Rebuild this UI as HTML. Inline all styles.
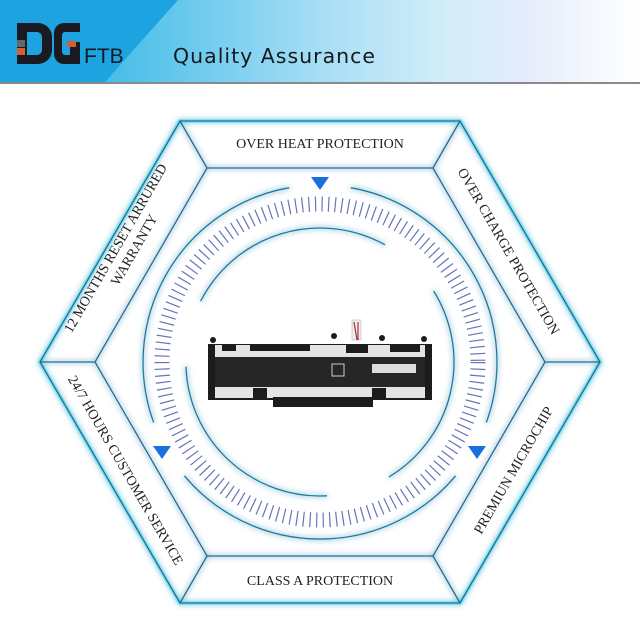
<!DOCTYPE html>
<html><head><meta charset="utf-8"><style>
html,body{margin:0;padding:0;background:#fff;width:640px;height:640px;overflow:hidden}
</style></head><body>
<svg width="640" height="640" viewBox="0 0 640 640" xmlns="http://www.w3.org/2000/svg">
<defs>
<linearGradient id="hd" x1="0" y1="0" x2="1" y2="0">
<stop offset="0" stop-color="#1fa6e2"/><stop offset="0.2" stop-color="#4fc0ea"/>
<stop offset="0.5" stop-color="#a6def5"/><stop offset="0.7" stop-color="#d3edf9"/>
<stop offset="0.82" stop-color="#e4ecfb"/><stop offset="1" stop-color="#ffffff"/>
</linearGradient>
<filter id="glow" x="-20%" y="-20%" width="140%" height="140%">
<feGaussianBlur stdDeviation="3" result="b"/>
<feMerge><feMergeNode in="b"/><feMergeNode in="SourceGraphic"/></feMerge>
</filter>
</defs>
<rect x="0" y="0" width="640" height="82" fill="url(#hd)"/>
<polygon points="0,0 178,0 105,82 0,82" fill="#1da3e0"/>
<rect x="0" y="82" width="640" height="2" fill="#8a8a8a"/>
<path d="M17,23 h21 a14,14 0 0 1 14,14 v13 a14,14 0 0 1 -14,14 h-21z M27,32 v23 h10 a5,5 0 0 0 5,-5 v-13 a5,5 0 0 0 -5,-5z" fill="#1a1a22" fill-rule="evenodd"/>
<rect x="17" y="40" width="8" height="7" fill="#666"/>
<rect x="17" y="48" width="8" height="7" fill="#d06030"/>
<path d="M64,23 h16 v9 h-15 a3,3 0 0 0 -3,3 v17 a3,3 0 0 0 3,3 h5 v-13 h10 v22 h-16 a10,10 0 0 1 -10,-10 v-21 a10,10 0 0 1 10,-10z" fill="#1a1a22"/>
<rect x="67" y="41" width="9" height="6" fill="#d06030"/>
<text x="84" y="63" font-family="Liberation Sans, sans-serif" font-size="21" fill="#151a22">FTB</text>
<text x="173" y="63" font-family="DejaVu Sans, sans-serif" font-size="20.5" fill="#151a22" letter-spacing="1">Quality Assurance</text>

<g fill="none" stroke="#1e6f9a" stroke-width="1.3" filter="url(#glow)">
<polygon points="180,121 460,121 600,362 460,603 180,603 40,362" stroke="#4fd8f0" stroke-width="4" opacity="0.5"/>
<polygon points="180,121 460,121 600,362 460,603 180,603 40,362"/>
<polygon points="207,168 433,168 545,362 433,556 207,556 95,362"/>
<line x1="180" y1="121" x2="207" y2="168"/><line x1="460" y1="121" x2="433" y2="168"/>
<line x1="600" y1="362" x2="545" y2="362"/><line x1="460" y1="603" x2="433" y2="556"/>
<line x1="180" y1="603" x2="207" y2="556"/><line x1="40" y1="362" x2="95" y2="362"/>
</g>

<g fill="none" stroke="#1d7aa0" stroke-width="1.3" filter="url(#glow)">
<path d="M350.7,187.7 A177,177 0 0 1 486.3,422.5"/>
<path d="M455.6,475.8 A177,177 0 0 1 184.4,475.8"/>
<path d="M153.7,422.5 A177,177 0 0 1 289.3,187.7"/>
<path d="M200.6,301.2 A134,134 0 0 1 385,244.8"/>
<path d="M433.6,291 A134,134 0 0 1 389,476.9"/>
<path d="M327,495.8 A134,134 0 0 1 186,366.7"/>
</g>
<circle cx="320" cy="362" r="158" fill="none" stroke="#4d5aa8" stroke-width="15" stroke-dasharray="1.2 5.4" opacity="0.85"/>

<g fill="#1a6fe0">
<polygon points="311,177 329,177 320,190"/>
<polygon points="153,446 171,446 162,459"/>
<polygon points="468,446 486,446 477,459"/>
</g>

<g font-family="Liberation Serif, serif" font-size="14" fill="#222" text-anchor="middle">
<text x="320" y="148">OVER HEAT PROTECTION</text>
<text x="320" y="585">CLASS A PROTECTION</text>
<text transform="translate(122,252) rotate(-60)" y="-3">12 MONTHS RESET ARRURED</text>
<text transform="translate(122,252) rotate(-60)" x="0" y="14" dx="8">WARRANTY</text>
<text transform="translate(509,251) rotate(60)" y="5">OVER CHARGE PROTECTION</text>
<text transform="translate(126,470) rotate(60)" y="5">24/7 HOURS CUSTOMER SERVICE</text>
<text transform="translate(513,470) rotate(-60)" y="5">PREMIUN MICROCHIP</text>
</g>

<g>
<rect x="352" y="320" width="9" height="20" fill="#eee" stroke="#aaa" stroke-width="0.5"/>
<path d="M354,322 l3,18 M358,322 l0,18" stroke="#b03030" stroke-width="1.2"/>
<rect x="208" y="344" width="224" height="56" fill="#1c1c1c"/>
<rect x="215" y="345" width="210" height="53" fill="#e4e4e4"/>
<rect x="222" y="345" width="14" height="6" fill="#1c1c1c"/>
<rect x="250" y="345" width="60" height="6" fill="#1c1c1c"/>
<rect x="346" y="345" width="22" height="8" fill="#1c1c1c"/>
<rect x="390" y="345" width="30" height="7" fill="#1c1c1c"/>
<rect x="215" y="357" width="210" height="30" fill="#262626"/>
<rect x="372" y="364" width="44" height="9" fill="#ddd"/>
<rect x="332" y="364" width="12" height="12" fill="none" stroke="#ccc"/>
<rect x="253" y="388" width="14" height="10" fill="#1c1c1c"/>
<rect x="372" y="388" width="14" height="10" fill="#1c1c1c"/>
<rect x="273" y="397" width="100" height="10" fill="#1c1c1c"/>
<circle cx="213" cy="340" r="3" fill="#1c1c1c"/><circle cx="334" cy="336" r="3" fill="#1c1c1c"/>
<circle cx="382" cy="338" r="3" fill="#1c1c1c"/><circle cx="424" cy="339" r="3" fill="#1c1c1c"/>
</g>
</svg>
</body></html>
